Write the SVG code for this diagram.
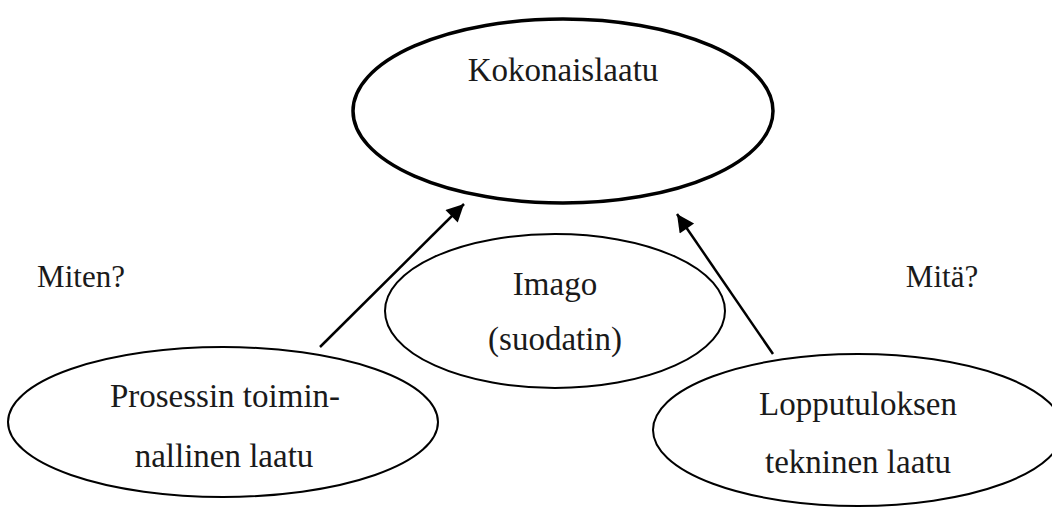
<svg xmlns="http://www.w3.org/2000/svg" width="1052" height="511" viewBox="0 0 1052 511">
<style>
.e{fill:none;stroke:#000;stroke-width:2}
.big{stroke-width:3.5}
text{font-family:"Liberation Serif",serif;font-size:33px;fill:#1a1a1a;text-anchor:middle}
.q{font-size:31px}
.c{stroke:#000;stroke-width:2.5;fill:none}
</style>
<defs>
<marker id="ah" viewBox="0 0 10 10" refX="10" refY="5" markerWidth="8" markerHeight="7" markerUnits="strokeWidth" orient="auto">
<path d="M0,0 L10,5 L0,10 z" fill="#000"/>
</marker>
</defs>
<rect width="1052" height="511" fill="#fff"/>
<g id="kokonaislaatu">
<ellipse class="e big" cx="563" cy="111" rx="210" ry="92"/>
<text x="563" y="81">Kokonaislaatu</text>
</g>
<g id="imago">
<ellipse class="e" cx="555" cy="311" rx="170" ry="77"/>
<text x="555" y="295">Imago</text>
<text x="555" y="350">(suodatin)</text>
</g>
<g id="prosessi">
<ellipse class="e" cx="223" cy="422" rx="215" ry="75"/>
<text x="225" y="407">Prosessin toimin-</text>
<text x="224" y="467">nallinen laatu</text>
</g>
<g id="lopputulos">
<ellipse class="e" cx="858" cy="430" rx="205" ry="76"/>
<text x="858" y="415">Lopputuloksen</text>
<text x="858" y="473">tekninen laatu</text>
</g>
<g id="miten"><text class="q" x="81" y="287">Miten?</text></g>
<g id="mita"><text class="q" x="942" y="287">Mitä?</text></g>
<g id="connectors">
<line class="c" x1="320" y1="347" x2="464" y2="204" marker-end="url(#ah)"/>
<line class="c" x1="773" y1="354" x2="677" y2="214" marker-end="url(#ah)"/>
</g>
</svg>
